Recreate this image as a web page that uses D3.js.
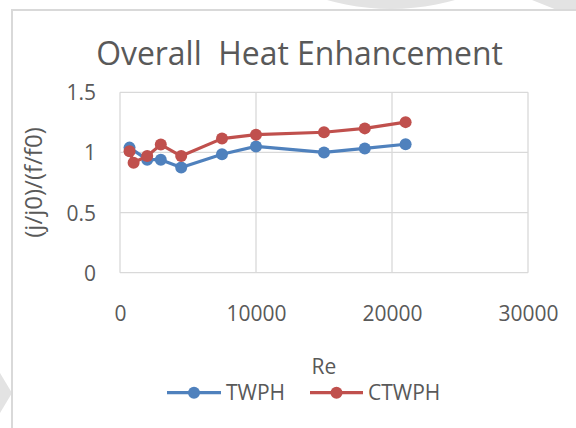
<!DOCTYPE html>
<html>
<head>
<meta charset="utf-8">
<script src="https://cdn.jsdelivr.net/npm/d3@7"></script>
<style>
  html, body { margin: 0; padding: 0; background: #fff; }
  svg { display: block; }
</style>
</head>
<body>
<svg id="chart" width="576" height="428"></svg>
<script>
// ---- data ----
const chartTitle = "Overall  Heat Enhancement";
const xTitle = "Re";
const yTitle = "(j/j0)/(f/f0)";
const xTicks = [0, 10000, 20000, 30000];
const yTicks = [0, 0.5, 1, 1.5];
const seriesNames = ["TWPH", "CTWPH"];
const twphRe = [700, 2000, 3000, 4500, 7500, 10000, 15000, 18000, 21000];
const twphVal = [1.04, 0.94, 0.94, 0.875, 0.985, 1.05, 1.0, 1.033, 1.068];
const ctwphRe = [700, 1000, 2000, 3000, 4500, 7500, 10000, 15000, 18000, 21000];
const ctwphVal = [1.01, 0.915, 0.97, 1.065, 0.97, 1.115, 1.148, 1.168, 1.2, 1.252];
const colors = ["#4F81BD", "#C0504D"];

const series = [
  { name: seriesNames[0], color: colors[0], pts: twphRe.map((r, i) => ({ x: r, y: twphVal[i] })) },
  { name: seriesNames[1], color: colors[1], pts: ctwphRe.map((r, i) => ({ x: r, y: ctwphVal[i] })) }
];

const svg = d3.select("#chart");
const font = "'Open Sans', 'DejaVu Sans', sans-serif";
const textColor = "#595959";
const gridColor = "#d9d9d9";

// background watermark shapes
svg.append("rect").attr("width", 576).attr("height", 428).attr("fill", "#fff");
svg.append("circle").attr("cx", 391).attr("cy", -223).attr("r", 232).attr("fill", "#e3e3e3");
svg.append("polygon").attr("points", "532,0 576,0 576,12 562,12").attr("fill", "#e3e3e3");
svg.append("polygon").attr("points", "0,373 12,393 0,413").attr("fill", "#e3e3e3");

// chart area frame
svg.append("rect")
  .attr("x", 12).attr("y", 10).attr("width", 600).attr("height", 460)
  .attr("fill", "#fff").attr("stroke", gridColor).attr("stroke-width", 2);

const plot = { left: 120, right: 528, top: 92.3, bottom: 272.7 };
const x = d3.scaleLinear().domain([0, 30000]).range([plot.left, plot.right]);
const y = d3.scaleLinear().domain([0, 1.5]).range([plot.bottom, plot.top]);

// gridlines
svg.append("g").selectAll("line").data(yTicks).join("line")
  .attr("x1", plot.left).attr("x2", plot.right)
  .attr("y1", d => y(d)).attr("y2", d => y(d))
  .attr("stroke", gridColor).attr("stroke-width", 1.3);
svg.append("g").selectAll("line").data(xTicks).join("line")
  .attr("y1", plot.top).attr("y2", plot.bottom)
  .attr("x1", d => x(d)).attr("x2", d => x(d))
  .attr("stroke", gridColor).attr("stroke-width", 1.3);

// axes (labels only)
const yAxis = svg.append("g").attr("transform", `translate(${plot.left},0)`)
  .call(d3.axisLeft(y).tickValues(yTicks).tickSize(0).tickFormat(d3.format("")));
yAxis.select(".domain").remove();
yAxis.selectAll("text")
  .attr("x", -24).attr("dy", "0.36em")
  .attr("font-family", font).attr("font-size", 21).attr("fill", textColor);

const xAxis = svg.append("g").attr("transform", `translate(0,${plot.bottom})`)
  .call(d3.axisBottom(x).tickValues(xTicks).tickSize(0).tickFormat(d3.format("d")));
xAxis.select(".domain").remove();
xAxis.selectAll("text")
  .attr("y", 40.5).attr("dy", "0.36em")
  .attr("font-family", font).attr("font-size", 21).attr("fill", textColor);

// title
const title = svg.append("text")
  .attr("x", 299.5).attr("y", 65).attr("text-anchor", "middle")
  .attr("font-family", font).attr("font-size", 30).attr("fill", textColor)
  .style("white-space", "pre").attr("xml:space", "preserve")
  .text(chartTitle);
const tw = title.node().getComputedTextLength();
title.attr("font-size", 30 * 407 / tw);

// axis titles
svg.append("text")
  .attr("x", (plot.left + plot.right) / 2).attr("y", 366).attr("dy", "0.36em")
  .attr("text-anchor", "middle")
  .attr("font-family", font).attr("font-size", 21).attr("fill", textColor)
  .text(xTitle);
const yt = svg.append("text")
  .attr("transform", `translate(33,${(plot.top + plot.bottom) / 2}) rotate(-90)`)
  .attr("dy", "0.36em").attr("text-anchor", "middle")
  .attr("font-family", font).attr("font-size", 21).attr("fill", textColor)
  .text(yTitle);
const yw = yt.node().getComputedTextLength();
yt.attr("font-size", Math.min(24, 21 * 134 / yw));

// series
const line = d3.line().x(d => x(d.x)).y(d => y(d.y));
series.forEach(s => {
  const g = svg.append("g");
  g.append("path").attr("d", line(s.pts))
    .attr("fill", "none").attr("stroke", s.color).attr("stroke-width", 3.2)
    .attr("stroke-linejoin", "round");
  g.selectAll("circle").data(s.pts).join("circle")
    .attr("cx", d => x(d.x)).attr("cy", d => y(d.y)).attr("r", 6)
    .attr("fill", s.color);
});

// legend
const legendY = 392.7;
const legendItems = [
  { name: series[0].name, color: series[0].color, x1: 167, x2: 221, tx: 226 },
  { name: series[1].name, color: series[1].color, x1: 310, x2: 363, tx: 368 }
];
const lg = svg.append("g");
legendItems.forEach(it => {
  lg.append("line").attr("x1", it.x1).attr("x2", it.x2)
    .attr("y1", legendY).attr("y2", legendY)
    .attr("stroke", it.color).attr("stroke-width", 3.2);
  lg.append("circle").attr("cx", (it.x1 + it.x2) / 2).attr("cy", legendY).attr("r", 6)
    .attr("fill", it.color);
  lg.append("text").attr("x", it.tx).attr("y", legendY).attr("dy", "0.36em")
    .attr("font-family", font).attr("font-size", 21).attr("fill", textColor)
    .text(it.name);
});
</script>
</body>
</html>
